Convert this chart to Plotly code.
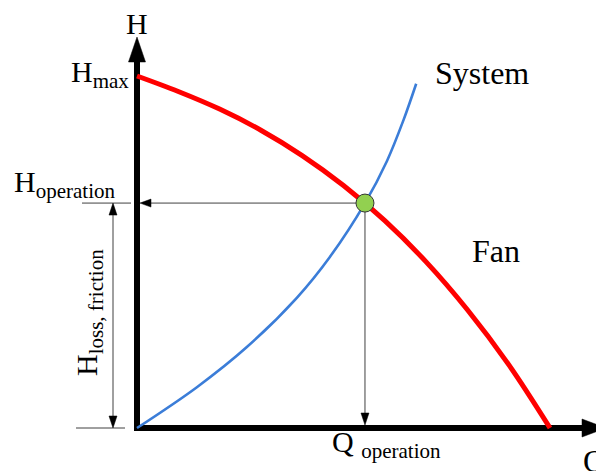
import plotly.graph_objects as go

# fan and system curves (Q and H in % of their max)
FAN_Q = [0, 10, 20, 30, 40, 50, 60, 70, 80, 90, 100]
FAN_H = [100, 95.6, 90.6, 84.6, 77.4, 68.9, 58.9, 47.2, 33.6, 18.0, 0]

SYS_Q = [0, 14.5, 26.6, 38.7, 46.7, 55.2, 60.5, 64.5, 67.6]
SYS_H = [0, 11.6, 23.0, 37.0, 48.6, 63.9, 75.8, 87.4, 97.8]

Q_OP = 55.2
H_OP = 63.9

W, H = 604, 471
OFF = 8          # the page body margin shifts the figure by this much
X0, Y0 = 137, 428  # origin in page pixels
SX, SY = 4.13, 3.52  # pixels per unit
X_RANGE = [(OFF - X0) / SX, (OFF + W - X0) / SX]
Y_RANGE = [(Y0 - OFF - H) / SY, (Y0 - OFF) / SY]

FONT = "Liberation Serif, Times New Roman, serif"
THIN = "#404040"


def q_of(xp):
    return (xp - X0) / SX


def h_of(yp):
    return (Y0 - yp) / SY


def head(tip_q, tip_h, dx, dy, length, width):
    # triangle with its tip at (tip_q, tip_h), pointing along (dx, dy) in screen px (dy up)
    bq = tip_q - dx * length / SX
    bh = tip_h - dy * length / SY
    pq, ph = -dy * width / 2 / SX, dx * width / 2 / SY
    return [tip_q, bq + pq, bq - pq, tip_q], [tip_h, bh + ph, bh - ph, tip_h]


def seg(fig, x, y, color=THIN, width=1):
    fig.add_trace(go.Scatter(x=x, y=y, mode="lines", hoverinfo="skip",
                             line=dict(color=color, width=width)))


def tri(fig, xy, color="black"):
    fig.add_trace(go.Scatter(x=xy[0], y=xy[1], mode="lines", fill="toself",
                             fillcolor=color, hoverinfo="skip",
                             line=dict(color=color, width=0.5)))


fig = go.Figure()

# main axes
y_tip = h_of(37)
x_tip = q_of(606)
yh = head(0, y_tip, 0, 1, 25, 17)
xh = head(x_tip, 0, 1, 0, 24, 18)
fig.add_shape(type="line", x0=0, y0=h_of(431), x1=0, y1=yh[1][1],
              line=dict(color="black", width=6), layer="below")
fig.add_shape(type="line", x0=q_of(134), y0=0, x1=xh[0][1], y1=0,
              line=dict(color="black", width=6), layer="below")
tri(fig, yh)
tri(fig, xh)

# operating point projections
q_axis = q_of(140)
seg(fig, [Q_OP, q_axis + 11 / SX], [H_OP, H_OP])
tri(fig, head(q_axis, H_OP, -1, 0, 11, 8))
h_axis = h_of(425)
seg(fig, [Q_OP, Q_OP], [H_OP, h_axis + 12 / SY])
tri(fig, head(Q_OP, h_axis, 0, -1, 12, 8))

# dimension line for the friction loss
q_dim = q_of(113)
seg(fig, [q_of(82), q_of(131)], [H_OP, H_OP])
seg(fig, [q_of(76), q_of(125)], [0, 0])
seg(fig, [q_dim, q_dim], [H_OP - 12 / SY, 12 / SY])
tri(fig, head(q_dim, H_OP, 0, 1, 12, 8))
tri(fig, head(q_dim, 0, 0, -1, 12, 8))

# curves
fig.add_trace(go.Scatter(x=SYS_Q, y=SYS_H, mode="lines", line_shape="spline",
                         line=dict(color="#3b7dd8", width=2.6), hoverinfo="skip"))
fig.add_trace(go.Scatter(x=FAN_Q, y=FAN_H, mode="lines", line_shape="spline",
                         line=dict(color="#ff0000", width=5), hoverinfo="skip"))
fig.add_trace(go.Scatter(x=[Q_OP], y=[H_OP], mode="markers", hoverinfo="skip",
                         marker=dict(size=18, color="#92d050",
                                     line=dict(color="#333333", width=1))))


def label(text, xp, yp, xanchor="center", angle=0, size=30):
    fig.add_annotation(text=text, xref="paper", yref="paper",
                       x=(xp - OFF) / W, y=1 - (yp - OFF) / H,
                       xanchor=xanchor, yanchor="middle", showarrow=False,
                       textangle=angle, font=dict(family=FONT, size=size, color="black"))


label("H", 136.5, 24)
label("H<sub>max</sub>", 131, 74, xanchor="right")
label("H<sub>operation</sub>", 117, 184, xanchor="right")
label("H<sub>loss, friction</sub>", 89, 313, angle=-90)
label("Q <sub>operation</sub>", 386, 444)
label("Q", 581, 461, xanchor="left", size=32)
label("System", 482, 73, size=32)
label("Fan", 495.5, 251, size=32)

fig.update_layout(
    width=W, height=H, autosize=False,
    margin=dict(l=0, r=0, t=0, b=0),
    paper_bgcolor="white", plot_bgcolor="white",
    showlegend=False,
    xaxis=dict(range=X_RANGE, visible=False, fixedrange=True),
    yaxis=dict(range=Y_RANGE, visible=False, fixedrange=True),
)

fig.write_html("out.html")
